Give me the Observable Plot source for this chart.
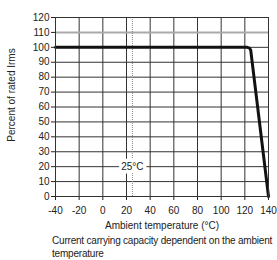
<!DOCTYPE html>
<html><head><meta charset="utf-8">
<script src="https://cdn.jsdelivr.net/npm/d3@7"></script>
<script src="https://cdn.jsdelivr.net/npm/@observablehq/plot@0.6"></script>
<style>
body{margin:0;background:#fff;overflow:hidden;width:277px;height:260px;font-family:"Liberation Sans",Arial,sans-serif;position:relative;}
#cap{position:absolute;left:52px;top:234px;width:224px;font-size:10px;letter-spacing:-0.2px;line-height:13px;color:#222;white-space:normal;}
</style></head><body>
<div id="chart"></div><div id="cap"></div>
<script>
const curveTemp = [-40, 122, 124, 125, 140];
const curvePct = [100, 100, 99.5, 98, 0];
const xTicks = [-40, -20, 0, 20, 40, 60, 80, 100, 120, 140];
const xTickLabels = ["-40", "-20", "0", "20", "40", "60", "80", "100", "120", "140"];
const yTicks = [0, 10, 20, 30, 40, 50, 60, 70, 80, 90, 100, 110, 120];
const refTemp = [25];
const refLabel = ["25°C"];
const refLabelY = [20];
const lightGridY = [110];
const xLabel = "Ambient temperature (°C)";
const yLabel = "Percent of rated Irms";
const caption = "Current carrying capacity dependent on the ambient temperature";

const curve = curveTemp.map((t, i) => ({t, p: curvePct[i]}));
const font = '"Liberation Sans", Arial, sans-serif';

const chart = Plot.plot({
  width: 277, height: 232,
  marginLeft: 55, marginRight: 9, marginTop: 17, marginBottom: 36,
  style: {fontFamily: font, fontSize: "10px", color: "#222", background: "#fff"},
  x: {domain: [-40, 140], ticks: xTicks, tickFormat: (d) => xTickLabels[xTicks.indexOf(d)], label: xLabel, labelAnchor: "center", labelOffset: 32, labelArrow: false, tickSize: 4, tickPadding: 6},
  y: {domain: [0, 120], ticks: yTicks, label: null, tickSize: 4, tickPadding: 2},
  marks: [
    Plot.ruleY(yTicks.filter(v => !lightGridY.includes(v)), {stroke: "#333", strokeWidth: 1}),
    Plot.ruleX(xTicks, {stroke: "#333", strokeWidth: 1}),
    Plot.ruleY(lightGridY, {stroke: "#aaa", strokeWidth: 2}),
    Plot.ruleX(refTemp, {stroke: "#888", strokeWidth: 1, strokeDasharray: "1,1"}),
    Plot.text(refLabel, {x: refTemp, y: refLabelY, text: d => d, stroke: "white", strokeWidth: 7, fill: "#222", fontSize: 10}),
    Plot.line(curve, {x: "t", y: "p", stroke: "#111", strokeWidth: 3, curve: "linear"}),
    Plot.frame({stroke: "#333"}),
    Plot.text([yLabel], {frameAnchor: "left", textAnchor: "middle", rotate: -90, dx: -44, dy: -12, text: d => d, fontSize: 10, fill: "#222"})
  ]
});
document.getElementById("chart").appendChild(chart);
document.getElementById("cap").textContent = caption;
</script>
</body></html>
